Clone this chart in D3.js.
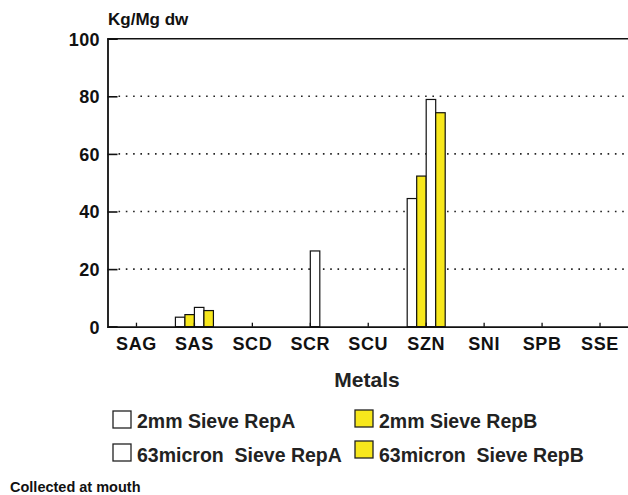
<!DOCTYPE html>
<html><head><meta charset="utf-8">
<script src="https://cdn.jsdelivr.net/npm/d3@7"></script>
<style>
html,body{margin:0;padding:0;background:#fff;}
svg{display:block;font-family:"Liberation Sans",Arial,Helvetica,sans-serif;}
</style></head>
<body>
<svg id="chart" width="628" height="495"></svg>
<script>
const categories = ["SAG","SAS","SCD","SCR","SCU","SZN","SNI","SPB","SSE"];
const seriesNames = ["2mm Sieve RepA","2mm Sieve RepB","63micron  Sieve RepA","63micron  Sieve RepB"];
const rep2mmA   = [0, 3.3, 0, 0,    0, 44.5, 0, 0, 0];
const rep2mmB   = [0, 4.2, 0, 0,    0, 52.3, 0, 0, 0];
const rep63A    = [0, 6.7, 0, 26.3, 0, 78.9, 0, 0, 0];
const rep63B    = [0, 5.6, 0, 0,    0, 74.3, 0, 0, 0];
const yTicks = [0, 20, 40, 60, 80, 100];
const seriesValues = [rep2mmA, rep2mmB, rep63A, rep63B];
const seriesColors = ["#ffffff", "#f7e71c", "#ffffff", "#f7e71c"];

(function () {
const svg = d3.select("#chart");
const pLeft = 107.5, pRight = 629, pTop = 38.7, pBottom = 326.7;

const x0 = d3.scaleBand().domain(categories).range([pLeft, pRight]).padding(0);
const bw = x0.bandwidth();
const groupW = 38;
const x1 = d3.scaleBand().domain(seriesNames).range([(bw - groupW) / 2, (bw + groupW) / 2]);
const y = d3.scaleLinear().domain([0, 100]).range([pBottom, pTop]);

// dotted gridlines
svg.append("g").selectAll("line").data(yTicks.filter(t => t > 0 && t < 100)).join("line")
  .attr("x1", pLeft + 11).attr("x2", pRight)
  .attr("y1", d => y(d)).attr("y2", d => y(d))
  .attr("stroke", "#222").attr("stroke-width", 1.6)
  .attr("stroke-dasharray", "1.6,5.7");

// bars
const barData = [];
seriesValues.forEach((vals, si) => {
  vals.forEach((v, ci) => { if (v > 0) barData.push({cat: categories[ci], s: seriesNames[si], v, c: seriesColors[si]}); });
});
svg.append("g").selectAll("rect").data(barData).join("rect")
  .attr("x", d => x0(d.cat) + x1(d.s))
  .attr("width", x1.bandwidth())
  .attr("y", d => y(d.v))
  .attr("height", d => y(0) - y(d.v))
  .attr("fill", d => d.c)
  .attr("stroke", "#111").attr("stroke-width", 1.2);

// frame
svg.append("line").attr("x1", pLeft).attr("x2", pRight).attr("y1", pTop).attr("y2", pTop)
  .attr("stroke", "#111").attr("stroke-width", 1.6);

// y axis
const yAxis = d3.axisLeft(y).tickValues(yTicks).tickSize(-10).tickPadding(7.5).tickFormat(d3.format("d"));
const gy = svg.append("g").attr("transform", `translate(${pLeft},0)`).call(yAxis);
gy.select(".domain").attr("stroke", "#111").attr("stroke-width", 1.8);
gy.selectAll(".tick line").attr("stroke", "#111").attr("stroke-width", 1.6);
gy.selectAll(".tick text").attr("font-size", 18).attr("font-weight", "bold").attr("fill", "#111")
  .attr("letter-spacing", 0.4).attr("dy", "0.36em");

// x axis
const xAxis = d3.axisBottom(x0).tickSize(-4).tickPadding(11).tickSizeOuter(0);
const gx = svg.append("g").attr("transform", `translate(0,${pBottom})`).call(xAxis);
gx.select(".domain").attr("stroke", "#111").attr("stroke-width", 1.8);
gx.selectAll(".tick line").attr("stroke", "#111").attr("stroke-width", 1.3);
gx.selectAll(".tick text").attr("font-size", 18).attr("font-weight", "bold").attr("fill", "#111")
  .attr("letter-spacing", 0.6).attr("dy", "0.71em");

// titles
svg.append("text").attr("x", 108).attr("y", 25).text("Kg/Mg dw")
  .attr("font-size", 17).attr("font-weight", "bold").attr("fill", "#111");
svg.append("text").attr("x", 367).attr("y", 387).attr("text-anchor", "middle").text("Metals")
  .attr("font-size", 21).attr("font-weight", "bold").attr("fill", "#222");

// legend
const legendPos = [
  {bx: 113, by: 411, tx: 137, ty: 428},
  {bx: 355, by: 410, tx: 379, ty: 428},
  {bx: 113, by: 444, tx: 137, ty: 462},
  {bx: 355, by: 441, tx: 379, ty: 462}
];
const lg = svg.append("g");
seriesNames.forEach((name, i) => {
  const p = legendPos[i];
  lg.append("rect").attr("x", p.bx).attr("y", p.by).attr("width", 18).attr("height", 17)
    .attr("fill", seriesColors[i]).attr("stroke", "#222").attr("stroke-width", 1.3);
  lg.append("text").attr("x", p.tx).attr("y", p.ty).text(name)
    .attr("font-size", 19.5).attr("font-weight", "bold").attr("fill", "#222")
    .style("white-space", "pre");
});

svg.append("text").attr("x", 10).attr("y", 492).text("Collected at mouth")
  .attr("font-size", 14.5).attr("font-weight", "bold").attr("fill", "#111");
})();
</script>
</body></html>
